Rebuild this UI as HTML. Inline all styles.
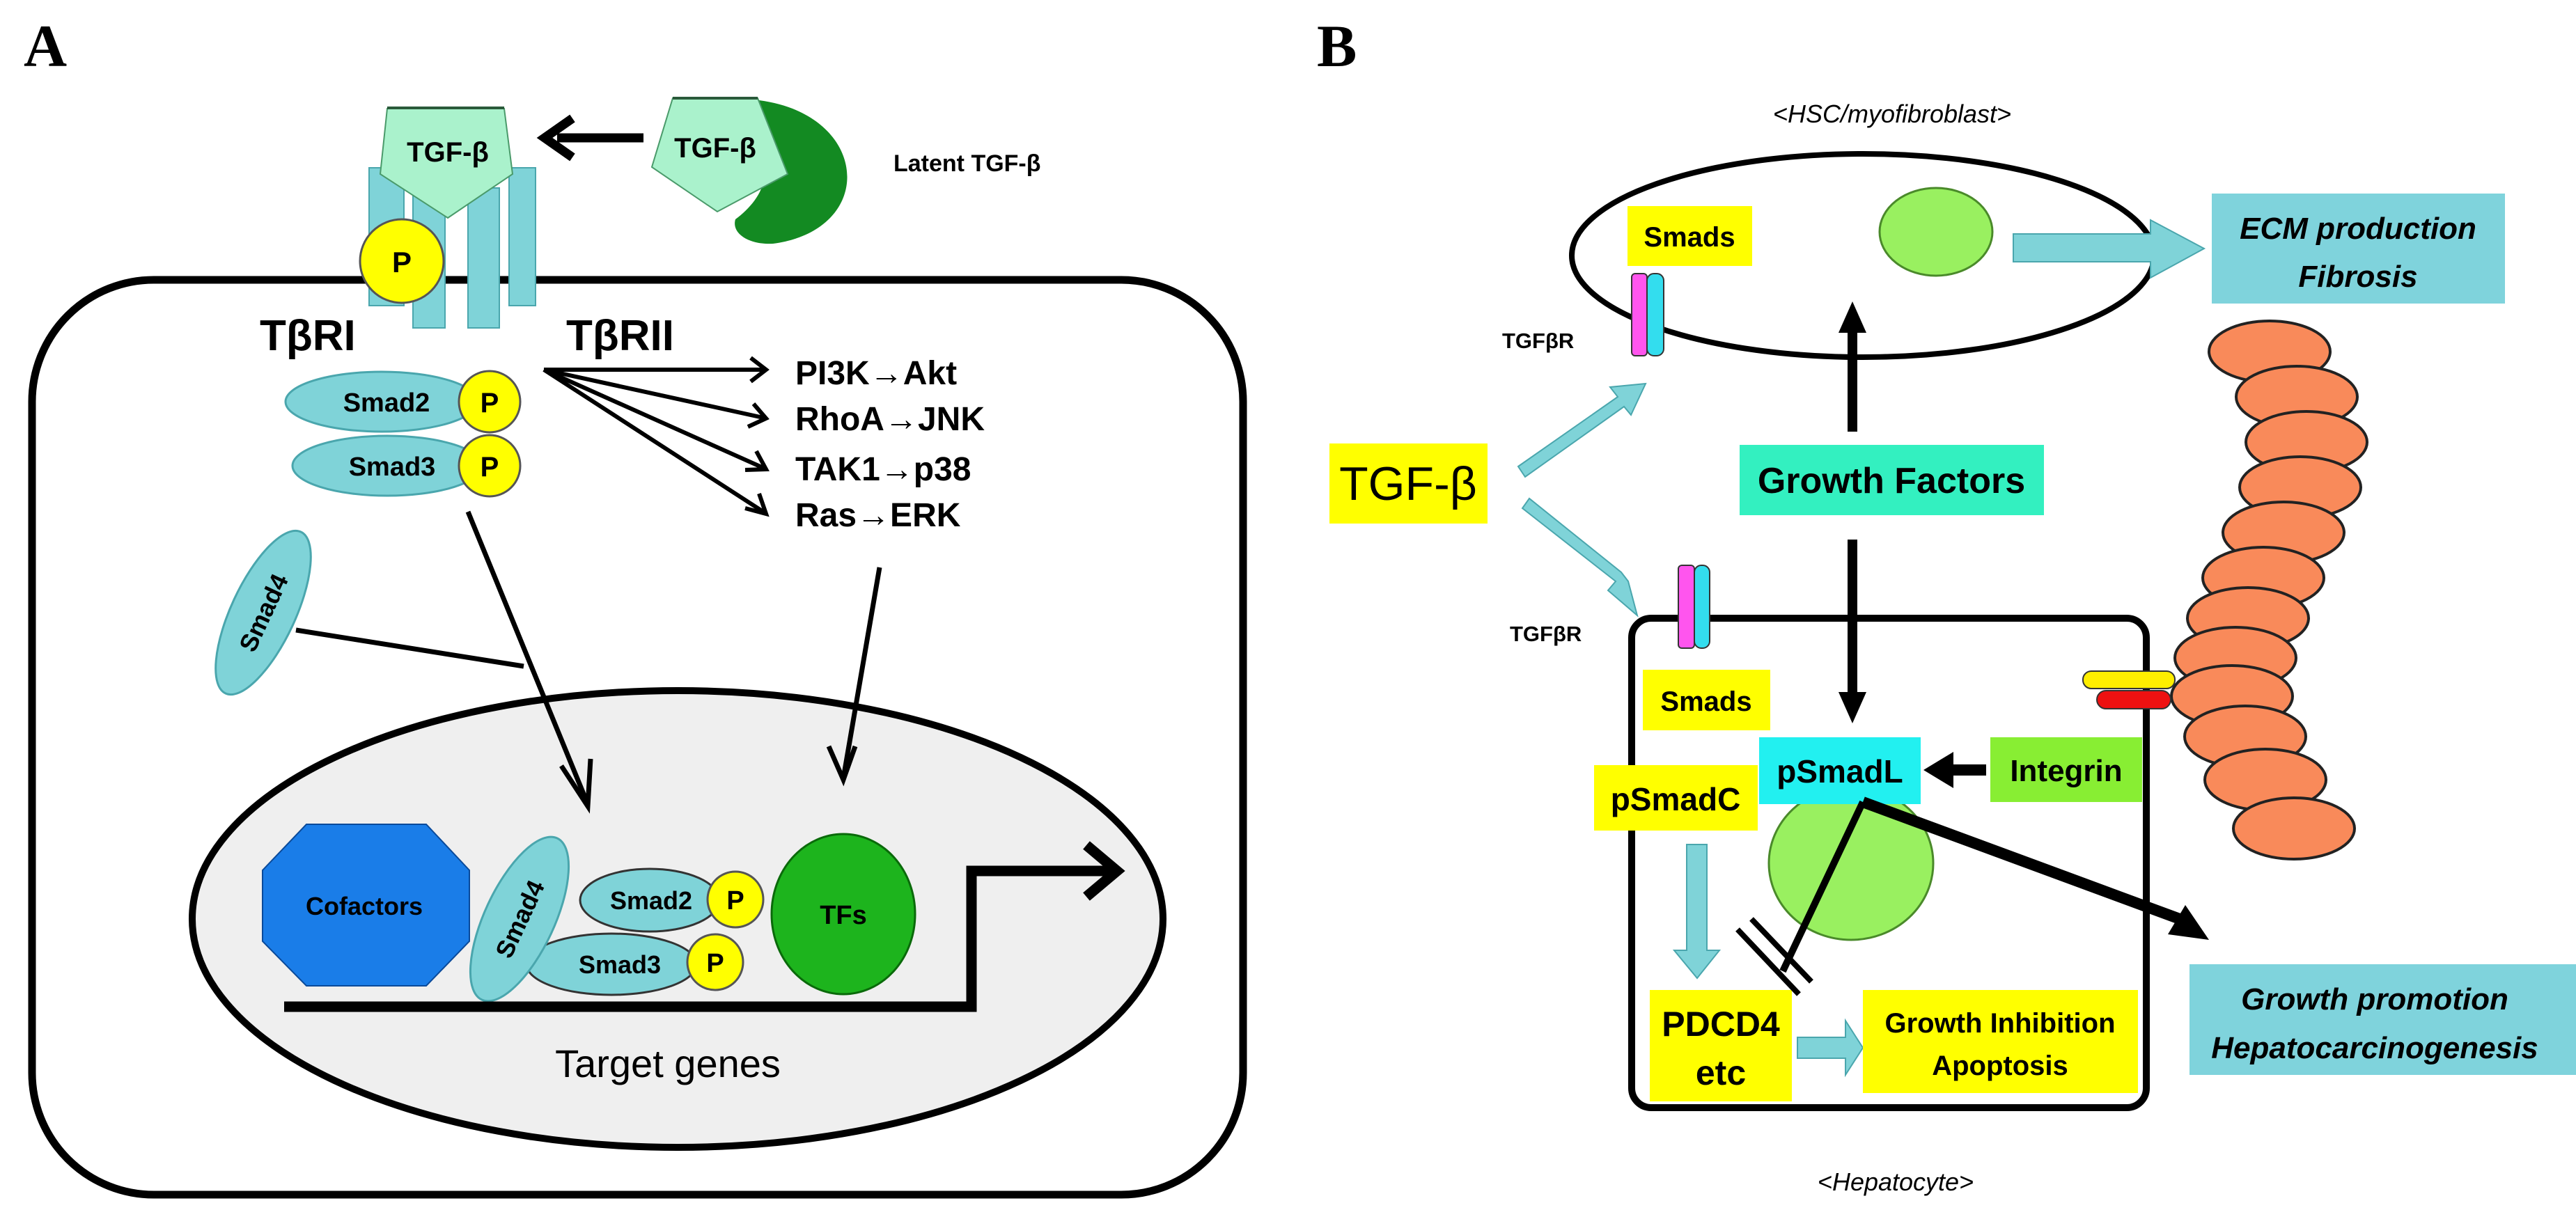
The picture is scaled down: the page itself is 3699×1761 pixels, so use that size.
<!DOCTYPE html>
<html><head><meta charset="utf-8"><style>
html,body{margin:0;padding:0;background:#fff}
svg{display:block}
text{font-family:"Liberation Sans",sans-serif;font-weight:bold;fill:#000}
</style></head><body>
<svg width="3699" height="1761" viewBox="0 0 3699 1761" xmlns="http://www.w3.org/2000/svg">
<defs>
<marker id="ah" markerWidth="10" markerHeight="10" refX="8" refY="5" orient="auto" markerUnits="userSpaceOnUse" viewBox="0 0 10 10">
</marker>
</defs>
<!-- Panel A -->
<text x="34" y="95" style="font-family:'Liberation Serif',serif;font-size:86px">A</text>

<!-- cell -->
<rect x="46" y="402" width="1739" height="1314" rx="175" ry="175" fill="none" stroke="#000" stroke-width="11"/>

<!-- receptor bars -->
<g fill="#7fd3d8" stroke="#4aa6ad" stroke-width="2">
<rect x="530" y="241" width="50" height="198"/>
<rect x="731" y="241" width="38" height="198"/>
<rect x="593" y="270" width="46" height="201"/>
<rect x="672" y="270" width="45" height="201"/>
</g>
<!-- TGF-b pentagon on receptor -->
<polygon points="556,156 724,156 736,250 643,313 546,250" fill="#aaf2cc" stroke="#4a9a6a" stroke-width="2"/>
<line x1="556" y1="155" x2="724" y2="155" stroke="#2a5a3a" stroke-width="4"/>
<text x="643" y="232" font-size="40" text-anchor="middle">TGF-β</text>
<!-- P on receptor -->
<circle cx="577" cy="375" r="60" fill="#ffff00" stroke="#555" stroke-width="3"/>
<text x="577" y="391" font-size="42" text-anchor="middle">P</text>
<!-- arrow to receptor -->
<line x1="924" y1="198" x2="800" y2="198" stroke="#000" stroke-width="13"/>
<polyline points="822,170 782,198 822,226" fill="none" stroke="#000" stroke-width="13"/>
<!-- latent -->
<path d="M1090,144 C1250,165 1260,330 1110,350 C1075,352 1050,335 1056,315 C1090,290 1120,245 1075,205 Z" fill="#138a22"/>
<polygon points="966,141 1088,141 1131,250 1030,304 936,240" fill="#aaf2cc" stroke="#4a9a6a" stroke-width="2"/>
<line x1="966" y1="141" x2="1088" y2="141" stroke="#2a5a3a" stroke-width="4"/>
<text x="1027" y="226" font-size="40" text-anchor="middle">TGF-β</text>
<text x="1283" y="246" font-size="34">Latent TGF-β</text>

<text x="373" y="503" font-size="62">TβRI</text>
<text x="813" y="503" font-size="62">TβRII</text>

<!-- Smad2/3 -->
<ellipse cx="548" cy="577" rx="138" ry="43" fill="#7fd3d8" stroke="#4aa6ad" stroke-width="3"/>
<ellipse cx="556" cy="669" rx="136" ry="43" fill="#7fd3d8" stroke="#4aa6ad" stroke-width="3"/>
<text x="555" y="591" font-size="38" text-anchor="middle">Smad2</text>
<text x="563" y="683" font-size="38" text-anchor="middle">Smad3</text>
<circle cx="703" cy="577" r="44" fill="#ffff00" stroke="#555" stroke-width="3"/>
<circle cx="703" cy="669" r="44" fill="#ffff00" stroke="#555" stroke-width="3"/>
<text x="703" y="592" font-size="40" text-anchor="middle">P</text>
<text x="703" y="684" font-size="40" text-anchor="middle">P</text>

<!-- fan arrows -->
<g stroke="#000" stroke-width="6" fill="none">
<line x1="781" y1="531" x2="1096" y2="531"/>
<line x1="781" y1="531" x2="1096" y2="600"/>
<line x1="781" y1="531" x2="1096" y2="672"/>
<line x1="781" y1="531" x2="1096" y2="735"/>
<polyline points="1078,514 1100,531 1078,548"/>
<polyline points="1082,580 1100,601 1074,613"/>
<polyline points="1086,648 1100,674 1070,675"/>
<polyline points="1090,709 1100,738 1070,730"/>
</g>
<text x="1142" y="552" font-size="48">PI3K→Akt</text>
<text x="1142" y="618" font-size="48">RhoA→JNK</text>
<text x="1142" y="690" font-size="48">TAK1→p38</text>
<text x="1142" y="756" font-size="48">Ras→ERK</text>

<!-- nucleus -->
<ellipse cx="973" cy="1320" rx="697" ry="328" fill="#efefef" stroke="#000" stroke-width="10"/>

<!-- arrows to nucleus -->
<g stroke="#000" stroke-width="7" fill="none">
<line x1="672" y1="735" x2="844" y2="1155"/>
<polyline points="806,1100 844,1158 848,1090"/>
<line x1="1263" y1="815" x2="1211" y2="1118"/>
<polyline points="1190,1072 1211,1120 1228,1072"/>
<line x1="425" y1="905" x2="752" y2="957"/>
</g>
<!-- free Smad4 -->
<ellipse cx="378" cy="880" rx="128" ry="46" transform="rotate(-65 378 880)" fill="#7fd3d8" stroke="#4aa6ad" stroke-width="3"/>
<text x="378" y="893" font-size="36" text-anchor="middle" transform="rotate(-65 378 880)">Smad4</text>

<!-- nucleus contents -->
<polygon points="440,1184 612,1184 674,1250 674,1352 612,1416 440,1416 377,1352 377,1250" fill="#1a7de8" stroke="#0a4a9a" stroke-width="2"/>
<text x="523" y="1314" font-size="36" text-anchor="middle">Cofactors</text>
<ellipse cx="933" cy="1293" rx="100" ry="45" fill="#7fd3d8" stroke="#333" stroke-width="3"/>
<ellipse cx="878" cy="1385" rx="122" ry="44" fill="#7fd3d8" stroke="#333" stroke-width="3"/>
<ellipse cx="746" cy="1320" rx="128" ry="50" transform="rotate(-65 746 1320)" fill="#7fd3d8" stroke="#4aa6ad" stroke-width="3"/>
<text x="746" y="1333" font-size="36" text-anchor="middle" transform="rotate(-65 746 1320)">Smad4</text>
<text x="935" y="1306" font-size="36" text-anchor="middle">Smad2</text>
<text x="890" y="1398" font-size="36" text-anchor="middle">Smad3</text>
<circle cx="1056" cy="1292" r="40" fill="#ffff00" stroke="#555" stroke-width="3"/>
<circle cx="1027" cy="1382" r="40" fill="#ffff00" stroke="#555" stroke-width="3"/>
<text x="1056" y="1306" font-size="38" text-anchor="middle">P</text>
<text x="1027" y="1396" font-size="38" text-anchor="middle">P</text>
<ellipse cx="1211" cy="1313" rx="103" ry="115" fill="#1db41d" stroke="#0a6a0a" stroke-width="3"/>
<text x="1211" y="1327" font-size="38" text-anchor="middle">TFs</text>
<!-- DNA -->
<polyline points="408,1446 1395,1446 1395,1251 1600,1251" fill="none" stroke="#000" stroke-width="15"/>
<polyline points="1560,1214 1604,1251 1560,1288" fill="none" stroke="#000" stroke-width="15"/>
<text x="959" y="1547" font-size="56" text-anchor="middle" style="font-weight:normal">Target genes</text>

<!-- Panel B -->
<text x="1891" y="95" style="font-family:'Liberation Serif',serif;font-size:86px">B</text>
<text x="2717" y="176" font-size="36" text-anchor="middle" style="font-weight:normal;font-style:italic">&lt;HSC/myofibroblast&gt;</text>
<ellipse cx="2675" cy="367" rx="418" ry="146" fill="none" stroke="#000" stroke-width="8"/>
<rect x="2337" y="296" width="179" height="86" fill="#ffff00"/>
<text x="2426" y="354" font-size="40" text-anchor="middle">Smads</text>
<ellipse cx="2780" cy="333" rx="81" ry="63" fill="#99f060" stroke="#4a8a2a" stroke-width="3"/>
<polygon points="2891,336 3088,336 3088,316 3165,357 3088,399 3088,376 2891,376" fill="#7fd3d8" stroke="#4aa6ad" stroke-width="2"/>
<rect x="3176" y="278" width="421" height="158" fill="#7fd3dc"/>
<text x="3386" y="343" font-size="44" text-anchor="middle" style="font-style:italic">ECM production</text>
<text x="3386" y="412" font-size="44" text-anchor="middle" style="font-style:italic">Fibrosis</text>
<rect x="2343" y="393" width="22" height="118" rx="5" fill="#ff55ee" stroke="#333" stroke-width="2"/>
<rect x="2365" y="393" width="24" height="118" rx="10" fill="#33ddee" stroke="#333" stroke-width="2"/>
<text x="2157" y="500" font-size="31">TGFβR</text>

<!-- growth factor arrows -->
<line x1="2660" y1="620" x2="2660" y2="470" stroke="#000" stroke-width="14"/>
<polygon points="2660,433 2640,478 2680,478" fill="#000"/>
<rect x="2498" y="639" width="437" height="101" fill="#33f0c0"/>
<text x="2716" y="708" font-size="52" text-anchor="middle">Growth Factors</text>
<line x1="2660" y1="775" x2="2660" y2="1000" stroke="#000" stroke-width="14"/>
<polygon points="2660,1039 2640,994 2680,994" fill="#000"/>

<rect x="1909" y="637" width="227" height="115" fill="#ffff00"/>
<text x="2022" y="718" font-size="68" text-anchor="middle" style="font-weight:normal">TGF-β</text>
<!-- cyan arrows from TGF-b -->
<polygon points="2180,670 2323,570 2312,556 2363,551 2342,596 2332,584 2190,685" fill="#7fd3d8" stroke="#4aa6ad" stroke-width="2"/>
<polygon points="2186,730 2320,835 2309,848 2351,884 2338,835 2328,822 2196,716" fill="#7fd3d8" stroke="#4aa6ad" stroke-width="2"/>

<!-- beads -->
<g fill="#f98a5a" stroke="#222" stroke-width="4">
<ellipse cx="3259" cy="505" rx="87" ry="44"/>
<ellipse cx="3298" cy="570" rx="87" ry="44"/>
<ellipse cx="3312" cy="635" rx="87" ry="44"/>
<ellipse cx="3303" cy="700" rx="87" ry="44"/>
<ellipse cx="3279" cy="765" rx="87" ry="44"/>
<ellipse cx="3250" cy="830" rx="87" ry="44"/>
<ellipse cx="3228" cy="888" rx="87" ry="44"/>
<ellipse cx="3210" cy="945" rx="87" ry="44"/>
<ellipse cx="3205" cy="1000" rx="87" ry="44"/>
<ellipse cx="3224" cy="1058" rx="87" ry="44"/>
<ellipse cx="3253" cy="1120" rx="87" ry="44"/>
<ellipse cx="3294" cy="1190" rx="87" ry="44"/>
</g>

<!-- hepatocyte -->
<rect x="2343" y="888" width="739" height="703" rx="28" fill="#fff" stroke="#000" stroke-width="10"/>
<line x1="2660" y1="880" x2="2660" y2="1000" stroke="#000" stroke-width="14"/>
<polygon points="2660,1039 2640,994 2680,994" fill="#000"/>
<rect x="2410" y="812" width="23" height="119" rx="5" fill="#ff55ee" stroke="#333" stroke-width="2"/>
<rect x="2433" y="812" width="22" height="119" rx="10" fill="#33ddee" stroke="#333" stroke-width="2"/>
<text x="2168" y="921" font-size="31">TGFβR</text>
<rect x="2991" y="964" width="132" height="25" rx="12" fill="#ffee00" stroke="#333" stroke-width="2"/>
<rect x="3011" y="992" width="106" height="26" rx="13" fill="#ee1111" stroke="#333" stroke-width="2"/>

<rect x="2359" y="962" width="183" height="87" fill="#ffff00"/>
<text x="2450" y="1021" font-size="40" text-anchor="middle">Smads</text>
<ellipse cx="2658" cy="1240" rx="118" ry="110" fill="#99f060" stroke="#4a8a2a" stroke-width="3"/>
<rect x="2526" y="1059" width="232" height="96" fill="#22f0f0"/>
<text x="2642" y="1124" font-size="46" text-anchor="middle">pSmadL</text>
<rect x="2858" y="1059" width="218" height="93" fill="#88ee33"/>
<text x="2967" y="1122" font-size="44" text-anchor="middle">Integrin</text>
<line x1="2852" y1="1106" x2="2800" y2="1106" stroke="#000" stroke-width="16"/>
<polygon points="2762,1106 2805,1080 2805,1132" fill="#000"/>
<rect x="2289" y="1099" width="235" height="94" fill="#ffff00"/>
<text x="2406" y="1164" font-size="46" text-anchor="middle">pSmadC</text>
<polygon points="2422,1213 2451,1213 2451,1365 2469,1365 2437,1405 2404,1365 2422,1365" fill="#7fd3d8" stroke="#4aa6ad" stroke-width="2"/>
<rect x="2369" y="1422" width="204" height="160" fill="#ffff00"/>
<text x="2471" y="1488" font-size="50" text-anchor="middle">PDCD4</text>
<text x="2471" y="1558" font-size="50" text-anchor="middle">etc</text>
<polygon points="2581,1490 2650,1490 2650,1466 2675,1505 2650,1544 2650,1520 2581,1520" fill="#7fd3d8" stroke="#4aa6ad" stroke-width="2"/>
<rect x="2675" y="1422" width="395" height="148" fill="#ffff00"/>
<text x="2872" y="1483" font-size="40" text-anchor="middle">Growth Inhibition</text>
<text x="2872" y="1544" font-size="40" text-anchor="middle">Apoptosis</text>
<!-- inhibition -->
<polyline points="2675,1152 2560,1395" fill="none" stroke="#000" stroke-width="10"/>
<line x1="2495" y1="1335" x2="2583" y2="1428" stroke="#000" stroke-width="8"/>
<line x1="2515" y1="1320" x2="2601" y2="1410" stroke="#000" stroke-width="8"/>
<!-- promotion arrow -->
<line x1="2675" y1="1152" x2="3130" y2="1320" stroke="#000" stroke-width="16"/>
<polygon points="3172,1350 3113,1342 3138,1300" fill="#000"/>
<rect x="3144" y="1385" width="555" height="159" fill="#7fd3dc"/>
<text x="3410" y="1450" font-size="44" text-anchor="middle" style="font-style:italic">Growth promotion</text>
<text x="3410" y="1520" font-size="44" text-anchor="middle" style="font-style:italic">Hepatocarcinogenesis</text>
<text x="2722" y="1710" font-size="36" text-anchor="middle" style="font-weight:normal;font-style:italic">&lt;Hepatocyte&gt;</text>
</svg>
</body></html>
